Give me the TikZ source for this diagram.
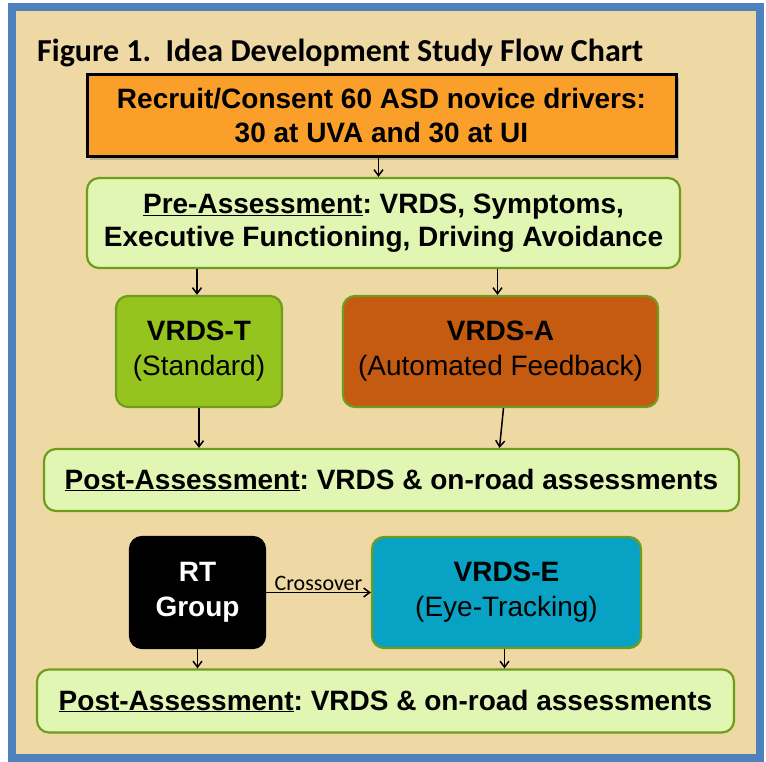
\documentclass[tikz,border=0pt]{standalone}
\usepackage{fontspec}
\setmainfont{Liberation Sans}
\newfontfamily\calibri{Carlito}
\usetikzlibrary{arrows.meta, positioning, shadows}
\frenchspacing

\definecolor{parchment}{RGB}{238,217,164}
\definecolor{frameblue}{RGB}{79,129,189}
\definecolor{recruitorange}{RGB}{250,160,42}
\definecolor{palegreen}{RGB}{224,246,178}
\definecolor{olivegreen}{RGB}{112,156,30}
\definecolor{limegreen}{RGB}{150,196,30}
\definecolor{rust}{RGB}{197,90,17}
\definecolor{teal}{RGB}{8,163,196}

\begin{document}
\begin{tikzpicture}[
    x=1pt, y=-1pt,
    link/.style={-{Straight Barb[length=6pt,width=9pt]}, line width=1.5pt},
    step box/.style={rounded corners=12pt, draw=olivegreen, line width=2.2pt, align=center, inner sep=0pt},
    assess/.style={step box, fill=palegreen, font=\bfseries\fontsize{28}{33}\selectfont},
    arm/.style={step box, minimum height=111pt, font=\fontsize{28}{35}\selectfont}
]

% Frame and parchment
\useasboundingbox (0,0) rectangle (766,762);
\fill[parchment] (12,7) rectangle (760,758);
\draw[frameblue, line width=8pt] (12,7) rectangle (760,758);

% Title
\node[anchor=base west, inner sep=0pt, font=\calibri\bfseries\fontsize{32}{38}\selectfont] (title) at (37,62)
    {Figure 1.\ \ Idea Development Study Flow Chart};

% Recruitment
\node[draw=black, line width=3pt, fill=recruitorange, drop shadow={shadow xshift=3pt, shadow yshift=-3pt, opacity=0.45},
      minimum width=589pt, minimum height=82pt, align=center, inner sep=0pt,
      font=\bfseries\fontsize{28}{34}\selectfont] (recruit) at (381.5,116)
    {Recruit/Consent 60 ASD novice drivers:\\30 at UVA and 30 at UI};

% Pre-assessment
\node[assess, minimum width=593pt, minimum height=90pt] (pre) at (383.5,223)
    {\underline{Pre-Assessment}: VRDS, Symptoms,\\Executive Functioning, Driving Avoidance};

% Arms
\node[arm, fill=limegreen, minimum width=166pt] (vrdst) at (199,351.5)
    {\textbf{VRDS-T}\\(Standard)};
\node[arm, fill=rust, minimum width=315pt] (vrdsa) at (500.5,351.5)
    {\textbf{VRDS-A}\\(Automated Feedback)};

% First post-assessment
\node[assess, minimum width=695pt, minimum height=62pt] (postA) at (391.5,480)
    {\underline{Post-Assessment}: VRDS \& on-road assessments};

% RT group and crossover arm
\node[arm, fill=black, draw=black, text=white, minimum width=135pt] (rt) at (197.5,592.5)
    {\textbf{RT}\\\textbf{Group}};
\node[arm, fill=teal, minimum width=269pt] (vrdse) at (506.5,592.5)
    {\textbf{VRDS-E}\\(Eye-Tracking)};

% Second post-assessment
\node[assess, minimum width=697pt, minimum height=63pt] (postB) at (385.5,701)
    {\underline{Post-Assessment}: VRDS \& on-road assessments};

% Connectors
\draw[link] ([xshift=-3pt]recruit.south) -- ([xshift=-3pt]recruit.south |- pre.north);
\draw[link] ([xshift=-2pt]vrdst.north |- pre.south) -- ([xshift=-2pt]vrdst.north);
\draw[link] ([xshift=-3pt]vrdsa.north |- pre.south) -- ([xshift=-3pt]vrdsa.north);
\draw[link] (vrdst.south) -- (vrdst.south |- postA.north);
\draw[link] ([xshift=3pt]vrdsa.south) -- ([xshift=-1pt]vrdsa.south |- postA.north);
\draw[link] (rt.east) -- node[above=-2pt, font=\calibri\fontsize{22}{26}\selectfont] {Crossover} (vrdse.west);
\draw[link] (rt.south) -- (rt.south |- postB.north);
\draw[link] ([xshift=-2pt]vrdse.south) -- ([xshift=-2pt]vrdse.south |- postB.north);

\end{tikzpicture}
\end{document}
